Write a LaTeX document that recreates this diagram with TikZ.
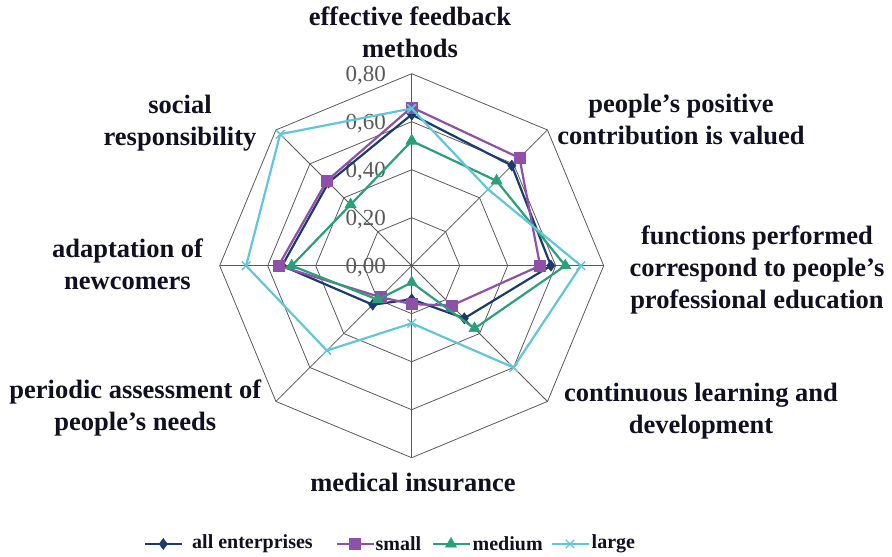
\documentclass[tikz,border=0pt]{standalone}
\usepackage{fontspec}
\setmainfont{Liberation Serif}
\usetikzlibrary{plotmarks}
\definecolor{allcol}{HTML}{1B3A6E}
\definecolor{smallcol}{HTML}{8E50A8}
\definecolor{medcol}{HTML}{2AA07A}
\definecolor{largecol}{HTML}{62C6DA}
\definecolor{gridcol}{HTML}{5A5A5A}
\definecolor{tickcol}{HTML}{595959}
\definecolor{labcol}{HTML}{101020}

\tikzset{
  grid line/.style={draw=gridcol, line width=0.8pt},
  axis label/.style={font=\bfseries\fontsize{26.5}{32}\selectfont, align=center, text=labcol},
  tick label/.style={font=\fontsize{23}{26}\selectfont, text=tickcol, anchor=east, inner sep=0pt},
  legend label/.style={font=\bfseries\fontsize{20}{24}\selectfont, text=labcol, anchor=west, inner sep=0pt},
  series/.style={line width=2.2pt},
  all marks/.style={mark=diamond*, mark size=5.5pt, mark options={solid, fill=allcol, draw=allcol, line width=0.5pt}},
  small marks/.style={mark=square*, mark size=5.5pt, mark options={solid, fill=smallcol, draw=smallcol, line width=0.5pt}},
  med marks/.style={mark=triangle*, mark size=6.5pt, mark options={solid, fill=medcol, draw=medcol, line width=0.5pt}},
  large marks/.style={mark=x, mark size=6pt, mark options={solid, draw=largecol, line width=1.4pt}},
  legend line/.style={series, mark indices={2}}
}

\begin{document}
\begin{tikzpicture}[x=1pt, y=1pt]
  \useasboundingbox (0,0) rectangle (892,557);

  \begin{scope}[shift={(411.7,291.3)}, x=240pt, y=240pt]
    % grid rings and spokes
    \foreach \r in {0.2,0.4,0.6,0.8}
      \draw[grid line] (90:\r) \foreach \a in {45,0,...,-225} { -- (\a:\r) } -- cycle;
    \foreach \a in {90,45,...,-225}
      \draw[grid line] (0,0) -- (\a:0.8);

    % scale
    \foreach \v in {0,2,4,6,8}
      \node[tick label] (tick\v) at ([xshift=-25.7pt, yshift=-2pt]0,\v/10) {0,\v0};

    % series
    \draw[series, allcol, all marks] plot coordinates {
      (90:0.63) (45:0.59) (0:0.58) (-45:0.31) (-90:0.14) (-135:0.23) (180:0.54) (135:0.49) (90:0.63)};
    \draw[series, smallcol, small marks] plot coordinates {
      (90:0.66) (45:0.635) (0:0.535) (-45:0.235) (-90:0.16) (-135:0.185) (180:0.555) (135:0.50) (90:0.66)};
    \draw[series, medcol, med marks] plot coordinates {
      (90:0.52) (45:0.50) (0:0.64) (-45:0.37) (-90:0.07) (-135:0.20) (180:0.50) (135:0.36) (90:0.52)};
    \draw[series, largecol, large marks] plot coordinates {
      (90:0.655) (45:0.45) (0:0.705) (-45:0.60) (-90:0.24) (-135:0.50) (180:0.69) (135:0.775) (90:0.655)};
  \end{scope}

  % axis labels
  \node[axis label] (feedback) at (410,524.5) {effective feedback\\methods};
  \node[axis label] (valued) at (681,437.6) {people’s positive\\contribution is valued};
  \node[axis label] (functions) at (757,287.5) {functions performed\\correspond to people’s\\professional education};
  \node[axis label] (learning) at (701,146.3) {continuous learning and\\development};
  \node[axis label] (insurance) at (413,75) {medical insurance};
  \node[axis label] (needs) at (135.3,149) {periodic assessment of\\people’s needs};
  \node[axis label] (newcomers) at (127.5,293) {adaptation of\\newcomers};
  \node[axis label] (social) at (180,433.6) {social\\responsibility};

  % legend
  \draw[legend line, allcol, all marks] plot coordinates {(145,13) (163.3,13) (182,13)};
  \node[legend label] (leg all) at (192,13) {all enterprises};
  \draw[legend line, smallcol, small marks] plot coordinates {(337,13) (355,13) (374,13)};
  \node[legend label] (leg small) at (375.5,13) {small};
  \draw[legend line, medcol, med marks] plot coordinates {(433,13) (451,13) (470,13)};
  \node[legend label] (leg med) at (472.5,13) {medium};
  \draw[legend line, largecol, large marks] plot coordinates {(552,13) (570,13) (589,13)};
  \node[legend label] (leg large) at (591.5,13) {large};
\end{tikzpicture}
\end{document}
